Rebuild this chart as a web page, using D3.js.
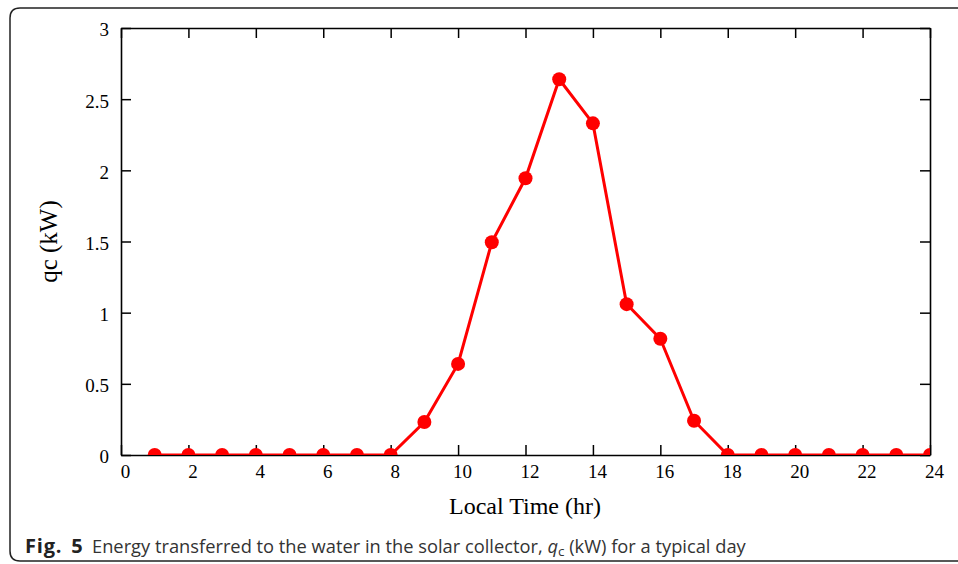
<!DOCTYPE html>
<html><head><meta charset="utf-8">
<script src="https://cdn.jsdelivr.net/npm/d3@7"></script>
<style>body{margin:0;background:#fff;} svg{display:block;}</style>
</head><body>
<svg id="c" width="958" height="564"></svg>
<script>
const hours = [1,2,3,4,5,6,7,8,9,10,11,12,13,14,15,16,17,18,19,20,21,22,23,24];
const qc = [0,0,0,0,0,0,0,0,0.232,0.64,1.495,1.944,2.64,2.33,1.06,0.817,0.241,0,0,0,0,0,0,0];
const xTicks = [0,2,4,6,8,10,12,14,16,18,20,22,24];
const yTicks = [0,0.5,1,1.5,2,2.5,3];
const yTickLabels = ["0","0.5","1","1.5","2","2.5","3"];

const svg = d3.select("#c");
const L=121, R=930, T=28, B=455;
const x = d3.scaleLinear().domain([0,24]).range([L,R]);
const y = d3.scaleLinear().domain([0,3]).range([B,T]);

// frame
svg.append("path")
  .attr("d", `M 970 8 L 20 8 Q 10 8 10 18 L 10 551 Q 10 561 20 561 L 970 561`)
  .attr("fill","none").attr("stroke","#222").attr("stroke-width",1.5);

const serif = "'Liberation Serif','Times New Roman',serif";
const tickLen = 10;

// axes
const xb = svg.append("g").attr("transform",`translate(0,${B})`)
  .call(d3.axisBottom(x).tickValues(xTicks).tickFormat(d3.format("d")).tickSizeInner(-tickLen).tickSizeOuter(0).tickPadding(10));
const xt = svg.append("g").attr("transform",`translate(0,${T})`)
  .call(d3.axisTop(x).tickValues(xTicks).tickFormat("").tickSizeInner(-tickLen).tickSizeOuter(0));
const yl = svg.append("g").attr("transform",`translate(${L},0)`)
  .call(d3.axisLeft(y).tickValues(yTicks).tickFormat((d,i)=>yTickLabels[i]).tickSizeInner(-tickLen).tickSizeOuter(0).tickPadding(12));
const yr = svg.append("g").attr("transform",`translate(${R},0)`)
  .call(d3.axisRight(y).tickValues(yTicks).tickFormat("").tickSizeInner(-tickLen).tickSizeOuter(0));
[xb,xt,yl,yr].forEach(g=>{
  g.select(".domain").attr("stroke","#000").attr("stroke-width",1.6);
  g.selectAll(".tick line").attr("stroke","#000").attr("stroke-width",1.5);
  g.selectAll("text").attr("font-family",serif).attr("font-size",19).attr("fill","#000");
});
xb.selectAll("text").attr("dy","0.71em").attr("dx",4);
yl.selectAll("text").attr("dy","0.42em");

// clip
svg.append("clipPath").attr("id","pc").append("rect")
  .attr("x",L).attr("y",T).attr("width",R-L).attr("height",B-T);

const data = hours.map((h,i)=>({h, v:qc[i]}));
const g = svg.append("g").attr("clip-path","url(#pc)");
g.append("path").datum(data)
  .attr("d", d3.line().x(d=>x(d.h)).y(d=>y(d.v)))
  .attr("fill","none").attr("stroke","#ff0000").attr("stroke-width",3);
g.selectAll("circle").data(data).join("circle")
  .attr("cx",d=>x(d.h)).attr("cy",d=>y(d.v)).attr("r",7).attr("fill","#ff0000");

// axis labels
svg.append("text").attr("x",525).attr("y",514).attr("text-anchor","middle")
  .attr("font-family",serif).attr("font-size",24).attr("fill","#000").text("Local Time (hr)");
svg.append("text").attr("transform",`translate(57,${(T+B)/2}) rotate(-90)`).attr("text-anchor","middle")
  .attr("font-family",serif).attr("font-size",25).attr("fill","#000").text("qc (kW)");

// caption
const cap = svg.append("text").attr("y",553)
  .attr("font-family","'Open Sans','Noto Sans',sans-serif").attr("font-size",18.3).attr("fill","#333");
cap.append("tspan").attr("x",25).attr("font-weight","bold").attr("fill","#222").attr("font-size",20)
  .attr("letter-spacing",0.8).attr("word-spacing",3).text("Fig. 5");
cap.append("tspan").attr("x",92).text("Energy transferred to the water in the solar collector, ");
cap.append("tspan").attr("font-style","italic").text("q");
cap.append("tspan").attr("font-size",13.5).attr("dy",3).text("c");
cap.append("tspan").attr("dy",-3).text(" (kW) for a typical day");
</script>
</body></html>
